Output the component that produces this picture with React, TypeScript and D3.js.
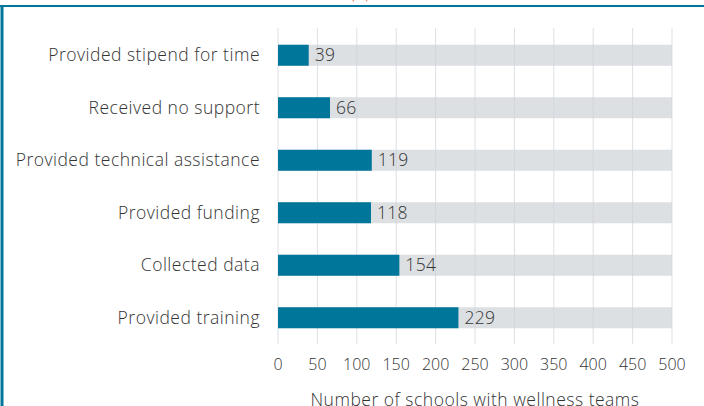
import React from 'react';
import * as d3 from 'd3';

const categories = [
  'Provided stipend for time',
  'Received no support',
  'Provided technical assistance',
  'Provided funding',
  'Collected data',
  'Provided training',
];
const values = [39, 66, 119, 118, 154, 229];
const ticks = [0, 50, 100, 150, 200, 250, 300, 350, 400, 450, 500];

const W = 704;
const H = 406;
const teal = '#00769b';
const font = '"Open Sans", Roboto, sans-serif';

const App = () => {
  const x = d3.scaleLinear().domain([0, 500]).range([278, 672]);
  const y = d3.scaleBand().domain(categories).range([29, 344]).paddingInner(0.6).paddingOuter(0.3);
  const bh = y.bandwidth();

  return (
    <svg width={W} height={H} style={{ position: 'absolute', left: 0, top: 0 }} fontFamily={font} fontWeight={300}>
      <rect width={W} height={H} fill="#fff" />
      <text x={360} y={-1} textAnchor="middle" fill="#e0603a" fontSize={17}>(n)</text>
      <line x1={0} x2={W} y1={6} y2={6} stroke={teal} strokeWidth={2} />
      <line x1={2} x2={2} y1={6} y2={H} stroke={teal} strokeWidth={3} />

      {categories.map(c => (
        <rect key={'bg' + c} x={x(0)} y={y(c)} width={x(500) - x(0)} height={bh} fill="#dde0e3" />
      ))}
      {ticks.map(t => (
        <line key={'g' + t} x1={x(t)} x2={x(t)} y1={28} y2={344} stroke="#cfd2d5" strokeOpacity={0.7} />
      ))}
      {categories.map((c, i) => (
        <g key={c}>
          <rect x={x(0)} y={y(c)} width={x(values[i]) - x(0)} height={bh} fill={teal} />
          <text x={260} y={y(c)! + bh / 2} dy="0.35em" textAnchor="end" fontSize={17.5} letterSpacing={0.5} fill="#333">{c}</text>
          <text x={x(values[i]) + 6} y={y(c)! + bh / 2} dy="0.35em" fontSize={17.5} letterSpacing={0.3} fill="#333">{values[i]}</text>
        </g>
      ))}
      {ticks.map(t => (
        <text key={'t' + t} x={x(t)} y={364} dy="0.35em" textAnchor="middle" fontSize={16} fill="#333">{t}</text>
      ))}
      <text x={(x(0) + x(500)) / 2} y={400} dy="0.35em" textAnchor="middle" fontSize={17.5} letterSpacing={0.5} fill="#333">
        Number of schools with wellness teams
      </text>
    </svg>
  );
};

export default App;
